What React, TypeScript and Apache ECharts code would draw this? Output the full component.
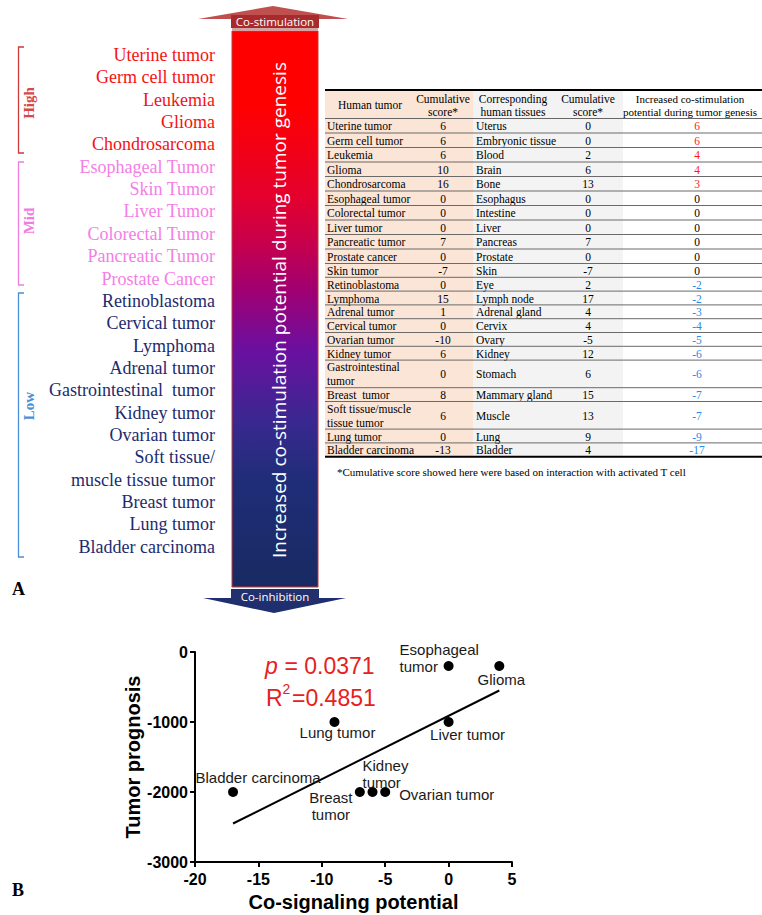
import React, { useEffect, useRef } from "react";
import * as echarts from "echarts";

// ---------- Panel A: ranked tumor list ----------
const highLabels = ["Uterine tumor", "Germ cell tumor", "Leukemia", "Glioma", "Chondrosarcoma"];
const midLabels = ["Esophageal Tumor", "Skin Tumor", "Liver Tumor", "Colorectal Tumor", "Pancreatic Tumor", "Prostate Cancer"];
const lowLabels = ["Retinoblastoma", "Cervical tumor", "Lymphoma", "Adrenal tumor", "Gastrointestinal  tumor", "Kidney tumor", "Ovarian tumor", "Soft tissue/", "muscle tissue tumor", "Breast tumor", "Lung tumor", "Bladder carcinoma"];

// ---------- Panel A: table ----------
const tableHeaders = ["Human tumor", "Cumulative\nscore*", "Corresponding\nhuman tissues", "Cumulative\nscore*", "Increased co-stimulation\npotential during tumor genesis"];
const tumors = ["Uterine tumor", "Germ cell tumor", "Leukemia", "Glioma", "Chondrosarcoma", "Esophageal tumor", "Colorectal tumor", "Liver tumor", "Pancreatic tumor", "Prostate cancer", "Skin tumor", "Retinoblastoma", "Lymphoma", "Adrenal tumor", "Cervical tumor", "Ovarian tumor", "Kidney tumor", "Gastrointestinal\ntumor", "Breast  tumor", "Soft tissue/muscle\ntissue tumor", "Lung tumor", "Bladder carcinoma"];
const tumorScores = [6, 6, 6, 10, 16, 0, 0, 0, 7, 0, -7, 0, 15, 1, 0, -10, 6, 0, 8, 6, 0, -13];
const tissues = ["Uterus", "Embryonic tissue", "Blood", "Brain", "Bone", "Esophagus", "Intestine", "Liver", "Pancreas", "Prostate", "Skin", "Eye", "Lymph node", "Adrenal gland", "Cervix", "Ovary", "Kidney", "Stomach", "Mammary gland", "Muscle", "Lung", "Bladder"];
const tissueScores = [0, 0, 2, 6, 13, 0, 0, 0, 7, 0, -7, 2, 17, 4, 4, -5, 12, 6, 15, 13, 9, 4];
const potentials = [6, 6, 4, 4, 3, 0, 0, 0, 0, 0, 0, -2, -2, -3, -4, -5, -6, -6, -7, -7, -9, -17];
const footnote = "*Cumulative score showed here were based on interaction with activated T cell";

// ---------- Panel B: scatter ----------
const scatterNames = ["Esophageal\ntumor", "Glioma", "Lung tumor", "Liver tumor", "Bladder carcinoma", "Breast\ntumor", "Kidney\ntumor", "Ovarian tumor"];
const scatterX = [0, 4, -9, 0, -17, -7, -6, -5];
const scatterY = [-200, -200, -1000, -1000, -2000, -2000, -2000, -2000];
const fitLine = [[-17, -2450], [4, -550]];
const xTicks = { min: -20, max: 5, step: 5 };
const yTicks = { min: -3000, max: 0, step: 1000 };

const SERIF = "'Times New Roman', 'Liberation Serif', serif";
const SANS = "Arial, 'Liberation Sans', sans-serif";

function txt(x: number, y: number, text: string, o: any = {}) {
  const align = o.align || "left";
  const va = o.va || "middle";
  const el: any = {
    type: "text",
    x,
    y,
    style: {
      text,
      fill: o.fill || "#000",
      fontSize: o.size || 12,
      fontFamily: o.family || SERIF,
      fontWeight: o.weight || "normal",
      fontStyle: o.italic ? "italic" : "normal",
      align,
      verticalAlign: va,
      textAlign: align,
      textVerticalAlign: va,
      lineHeight: o.lh,
    },
  };
  if (o.rot) el.rotation = o.rot;
  return el;
}

function buildGraphics() {
  const g: any[] = [];
  const RED = "#f51212";
  const PINK = "#f47ee6";
  const NAVY = "#1d2b6e";

  // left list
  const leftItems = [
    ...highLabels.map((t) => ({ t, c: RED })),
    ...midLabels.map((t) => ({ t, c: PINK })),
    ...lowLabels.map((t) => ({ t, c: NAVY })),
  ];
  leftItems.forEach((it, i) => {
    g.push(txt(215, 55 + i * 22.35, it.t, { align: "right", size: 18, fill: it.c }));
  });

  // brackets
  const brackets = [
    { y0: 47, y1: 153, c: "#cc3a3a", t: "High", tc: "#d84848", ty: 103 },
    { y0: 162, y1: 285, c: "#f07ee2", t: "Mid", tc: "#f07ee2", ty: 221 },
    { y0: 293, y1: 557, c: "#4a8fd8", t: "Low", tc: "#4a8fd8", ty: 406 },
  ];
  brackets.forEach((b) => {
    g.push({
      type: "polyline",
      shape: { points: [[24, b.y0], [18.5, b.y0], [18.5, b.y1], [24, b.y1]] },
      style: { stroke: b.c, lineWidth: 1.3, fill: null },
    });
    g.push(txt(29, b.ty, b.t, { align: "center", size: 15, weight: "bold", fill: b.tc, rot: Math.PI / 2 }));
  });

  // arrow
  g.push({ type: "polygon", shape: { points: [[198, 19], [273, 6], [348, 19]] }, style: { fill: "#c0504d" } });
  g.push({ type: "rect", shape: { x: 231, y: 15, width: 88, height: 13 }, style: { fill: "#a92a2c" } });
  g.push({ type: "line", shape: { x1: 232, y1: 29, x2: 318, y2: 29 }, style: { stroke: "#9a5050", lineWidth: 1 } });
  g.push({
    type: "rect",
    shape: { x: 232, y: 31, width: 86, height: 556 },
    style: {
      fill: new echarts.graphic.LinearGradient(0, 0, 0, 1, [
        { offset: 0, color: "#ff0000" },
        { offset: 0.13, color: "#ff0000" },
        { offset: 0.3, color: "#e4002e" },
        { offset: 0.39, color: "#c40050" },
        { offset: 0.466, color: "#a00072" },
        { offset: 0.574, color: "#6a10a0" },
        { offset: 0.7, color: "#3a2890" },
        { offset: 0.81, color: "#1f2d78" },
        { offset: 1, color: "#182a62" },
      ]),
      stroke: "#c03a3a",
      lineWidth: 1,
    },
  });
  g.push(txt(275, 21.5, "Co-stimulation", { align: "center", size: 11.5, family: "'Open Sans', sans-serif", fill: "#fff" }));
  g.push({ type: "polygon", shape: { points: [[203, 598], [274, 613], [346, 598]] }, style: { fill: "#1f2e6e" } });
  g.push({ type: "rect", shape: { x: 231, y: 589, width: 88, height: 14 }, style: { fill: "#22306e" } });
  g.push(txt(275, 596, "Co-inhibition", { align: "center", size: 11.5, family: "'Open Sans', sans-serif", fill: "#fff" }));
  g.push(txt(279, 310, "Increased co-stimulation potential during tumor genesis", { align: "center", size: 19, family: "'Open Sans', sans-serif", fill: "#fff", rot: Math.PI / 2 }));

  // panel letters
  g.push(txt(12, 589, "A", { size: 18, weight: "bold" }));
  g.push(txt(12, 890, "B", { size: 18, weight: "bold" }));

  // table
  const X0 = 325, X1 = 762, TOP = 90, HEAD_B = 118.5;
  const rowHeights = tumors.map((t, i) => (t.includes("\n") ? 2 : 1) * (i < 10 ? 14.5 : 13.8));
  const bottom = HEAD_B + rowHeights.reduce((a, b) => a + b, 0);
  g.push({ type: "rect", shape: { x: X0, y: TOP, width: 148, height: bottom - TOP }, style: { fill: "#fbe5d6" } });
  g.push({ type: "rect", shape: { x: 473, y: TOP, width: 150, height: bottom - TOP }, style: { fill: "#f3f3f3" } });
  const cx = [370, 443, 513, 588, 690];
  tableHeaders.forEach((h, j) => {
    g.push(txt(cx[j], (TOP + HEAD_B) / 2 + 1, h, { align: "center", size: j === 4 ? 11 : 11.5, lh: 13 }));
  });
  g.push({ type: "line", shape: { x1: X0, y1: HEAD_B, x2: X1, y2: HEAD_B }, style: { stroke: "#666", lineWidth: 1 } });
  let y = HEAD_B;
  tumors.forEach((t, i) => {
    const h = rowHeights[i];
    const cy = y + h / 2 + 0.5;
    g.push(txt(327, cy, t, { size: 11.5, lh: 14 }));
    g.push(txt(443, cy, String(tumorScores[i]), { align: "center", size: 11.5 }));
    g.push(txt(476, cy, tissues[i], { size: 11.5 }));
    g.push(txt(588, cy, String(tissueScores[i]), { align: "center", size: 11.5 }));
    const p = potentials[i];
    g.push(txt(697, cy, String(p), { align: "center", size: 11.5, fill: p > 0 ? "#ff1a1a" : p < 0 ? "#2b8ae6" : "#000" }));
    y += h;
    if (i < tumors.length - 1) {
      g.push({ type: "line", shape: { x1: X0, y1: y, x2: X1, y2: y }, style: { stroke: "#6a6a6a", lineWidth: 1 } });
    }
  });
  g.push({ type: "line", shape: { x1: X0, y1: TOP, x2: X1, y2: TOP }, style: { stroke: "#000", lineWidth: 2 } });
  g.push({ type: "line", shape: { x1: X0, y1: bottom, x2: X1, y2: bottom }, style: { stroke: "#000", lineWidth: 2 } });
  g.push(txt(337, bottom + 15, footnote, { size: 11 }));

  // panel B stats text
  const SR = "#e82020";
  g.push(txt(265, 666, "p", { size: 23, family: SANS, fill: SR, italic: true }));
  g.push(txt(278, 666, " = 0.0371", { size: 23, family: SANS, fill: SR }));
  g.push(txt(266, 698, "R", { size: 23, family: SANS, fill: SR }));
  g.push(txt(282.5, 689, "2", { size: 14, family: SANS, fill: SR }));
  g.push(txt(292, 698, "=0.4851", { size: 23, family: SANS, fill: SR }));

  return g;
}

const labelPlacement: any[] = [
  { align: "left", offset: [-49, -8] },
  { align: "center", offset: [2, 13] },
  { align: "center", offset: [3, 10] },
  { align: "center", offset: [19, 12] },
  { align: "center", offset: [25, -15] },
  { align: "center", offset: [-29, 14] },
  { align: "left", offset: [-10, -18] },
  { align: "left", offset: [14, 2] },
];

export default function App() {
  const ref = useRef<HTMLDivElement>(null);
  useEffect(() => {
    document.body.style.margin = "0";
    const chart = echarts.init(ref.current!, null, { renderer: "svg" });
    const axisCommon = {
      type: "value",
      axisLine: { show: true, onZero: false, lineStyle: { color: "#000", width: 2 } },
      axisTick: { show: true, length: 5, lineStyle: { color: "#000", width: 2 } },
      splitLine: { show: false },
      nameLocation: "middle",
      nameTextStyle: { color: "#000", fontWeight: "bold", fontSize: 20, fontFamily: SANS },
    };
    chart.setOption({
      animation: false,
      backgroundColor: "#fff",
      grid: { left: 195, top: 652, width: 317, height: 210 },
      xAxis: {
        ...axisCommon,
        min: xTicks.min,
        max: xTicks.max,
        interval: xTicks.step,
        name: "Co-signaling potential",
        nameGap: 30,
        axisLabel: { color: "#000", fontWeight: "bold", fontSize: 16, fontFamily: SANS, margin: 9, formatter: (v: number) => String(v) },
      },
      yAxis: {
        ...axisCommon,
        min: yTicks.min,
        max: yTicks.max,
        interval: yTicks.step,
        name: "Tumor prognosis",
        nameGap: 52,
        axisLabel: { color: "#000", fontWeight: "bold", fontSize: 16, fontFamily: SANS, margin: 7, formatter: (v: number) => String(v) },
      },
      series: [
        {
          type: "line",
          data: fitLine,
          symbol: "none",
          lineStyle: { color: "#000", width: 2 },
          z: 2,
        },
        {
          type: "scatter",
          symbolSize: 10,
          itemStyle: { color: "#000", opacity: 1 },
          z: 3,
          data: scatterX.map((x, i) => ({
            value: [x, scatterY[i]],
            name: scatterNames[i],
            label: {
              show: true,
              position: "inside",
              formatter: scatterNames[i],
              color: "#1a1a1a",
              fontSize: 15,
              fontFamily: SANS,
              lineHeight: 17,
              align: labelPlacement[i].align,
              verticalAlign: "middle",
              offset: labelPlacement[i].offset,
            },
          })),
        },
      ],
      graphic: buildGraphics(),
    });
    return () => chart.dispose();
  }, []);
  return <div ref={ref} style={{ width: 762, height: 915 }} />;
}
